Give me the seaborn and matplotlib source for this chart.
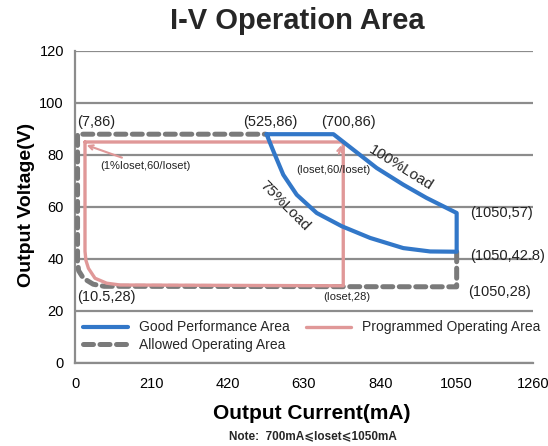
import matplotlib
matplotlib.use("Agg")
import matplotlib.pyplot as plt
import seaborn as sns
import pandas as pd

# Good Performance Area (closed outline: top edge, 100% load curve, right edge, 75% load curve)
good_x = [527, 711, 766, 830, 903, 967, 1050, 1050, 977, 903, 812, 734, 665, 610, 573, 546, 527]
good_y = [88, 88, 82.0, 75.0, 68.6, 63.5, 57.7, 42.8, 42.9, 44.2, 48.1, 52.6, 57.7, 64.7, 72.4, 81.4, 88]

# Programmed Operating Area
prog_x = [27.5, 738, 738, 124, 87, 55, 37, 30, 27.5, 27.5]
prog_y = [85, 85, 29.7, 30, 30.7, 32.6, 36.4, 39.5, 43, 85]

# Allowed Operating Area
allowed_x = [1050, 1050, 80, 50, 23, 10, 7, 7, 525]
allowed_y = [42.8, 29.3, 29.5, 30.3, 32.6, 35.5, 39, 88, 88]

x_ticks = [0, 210, 420, 630, 840, 1050, 1260]
y_ticks = [0, 20, 40, 60, 80, 100, 120]

# point labels: (text, x, y, ha, size)
point_labels = [
    ("(7,86)", 5, 92.7, "left", 10.5),
    ("(525,86)", 536, 92.7, "center", 10.5),
    ("(700,86)", 751, 92.7, "center", 10.5),
    ("(1050,57)", 1087, 57.7, "left", 10.5),
    ("(1050,42.8)", 1087, 41.2, "left", 10.5),
    ("(1050,28)", 1081, 27.3, "left", 10.5),
    ("(10.5,28)", 5, 25.4, "left", 10.5),
    ("(Ioset,28)", 748, 25.4, "center", 8),
]

blue = "#3277C8"
pink = "#E09898"
gray = "#7A7A7A"
grid_gray = "#8C8C8C"

sns.set_theme(style="white")
plt.rcParams['font.family'] = ['Liberation Sans', 'DejaVu Sans']

fig = plt.figure(figsize=(5.48, 4.46), dpi=100)
ax = fig.add_axes([75 / 548, 83 / 446, 458 / 548, 312 / 446])

good = pd.DataFrame({"I": good_x, "V": good_y})
prog = pd.DataFrame({"I": prog_x, "V": prog_y})
allowed = pd.DataFrame({"I": allowed_x, "V": allowed_y})

sns.lineplot(data=allowed, x="I", y="V", sort=False, estimator=None, ax=ax,
             color=gray, lw=3.6, linestyle=(0, (2.0, 1.3)),
             dash_capstyle="round", label="Allowed Operating Area", zorder=3)
sns.lineplot(data=prog, x="I", y="V", sort=False, estimator=None, ax=ax,
             color=pink, lw=2.4, label="Programmed Operating Area", zorder=4)
sns.lineplot(data=good, x="I", y="V", sort=False, estimator=None, ax=ax,
             color=blue, lw=3.0, label="Good Performance Area", zorder=5)

ax.set_xlim(0, 1260)
ax.set_ylim(0, 120)
ax.set_xticks(x_ticks)
ax.set_yticks(y_ticks)
ax.yaxis.grid(True, color=grid_gray, lw=1.6)
ax.xaxis.grid(False)
ax.set_axisbelow(True)
for s in ["top", "right"]:
    ax.spines[s].set_visible(False)
for s in ["left", "bottom"]:
    ax.spines[s].set_color(grid_gray)
    ax.spines[s].set_linewidth(1.6)
ax.tick_params(axis="x", direction="in", length=4, width=1.5, color=grid_gray,
               labelsize=10.5, pad=10, labelcolor="black")
ax.tick_params(axis="y", length=0, labelsize=10.5, pad=8, labelcolor="black")

ax.set_xlabel("Output Current(mA)", fontsize=15, fontweight="bold", color="black")
ax.xaxis.set_label_coords(0.517, -0.13)
ax.set_ylabel("Output Voltage(V)", fontsize=14, fontweight="bold", color="black")
ax.yaxis.set_label_coords(-0.088, 0.506)

for txt, x, y, ha, size in point_labels:
    ax.text(x, y, txt, ha=ha, va="center", fontsize=size, color="#222222", zorder=6)

ax.text(897, 75, "100%Load", rotation=-32, ha="center", va="center",
        fontsize=11, rotation_mode="anchor", zorder=6)
ax.text(578, 60.5, "75%Load", rotation=-45, ha="center", va="center",
        fontsize=11, rotation_mode="anchor", zorder=6)

ax.annotate("(1%Ioset,60/Ioset)", xy=(32, 83.8), xytext=(69, 75.8),
            ha="left", va="center", fontsize=8, color="#222222",
            arrowprops=dict(arrowstyle="->", color=pink, lw=1.5,
                            shrinkA=0, shrinkB=0), zorder=6)
ax.annotate("(Ioset,60/Ioset)", xy=(733, 83.8), xytext=(712, 74.2),
            ha="center", va="center", fontsize=8, color="#222222",
            arrowprops=dict(arrowstyle="->", color=pink, lw=1.5,
                            shrinkA=6, shrinkB=0), zorder=6)

handles, labels = ax.get_legend_handles_labels()
order = [labels.index("Good Performance Area"), labels.index("Allowed Operating Area"),
         labels.index("Programmed Operating Area")]
ax.legend([handles[i] for i in order], [labels[i] for i in order], ncol=2,
          loc="upper left", bbox_to_anchor=(0.0, 0.163), frameon=False,
          fontsize=10, handlelength=3.2, columnspacing=1.2, labelspacing=0.25,
          borderaxespad=0.2)

fig.text(297 / 548, 1 - 21 / 446, "I-V Operation Area", ha="center", va="center",
         fontsize=21, fontweight="bold")
fig.text(313 / 548, 1 - 436 / 446, "Note:  700mA⩽Ioset⩽1050mA", ha="center",
         va="center", fontsize=8.5, fontweight="bold")

fig.savefig("out.png", dpi=100)
